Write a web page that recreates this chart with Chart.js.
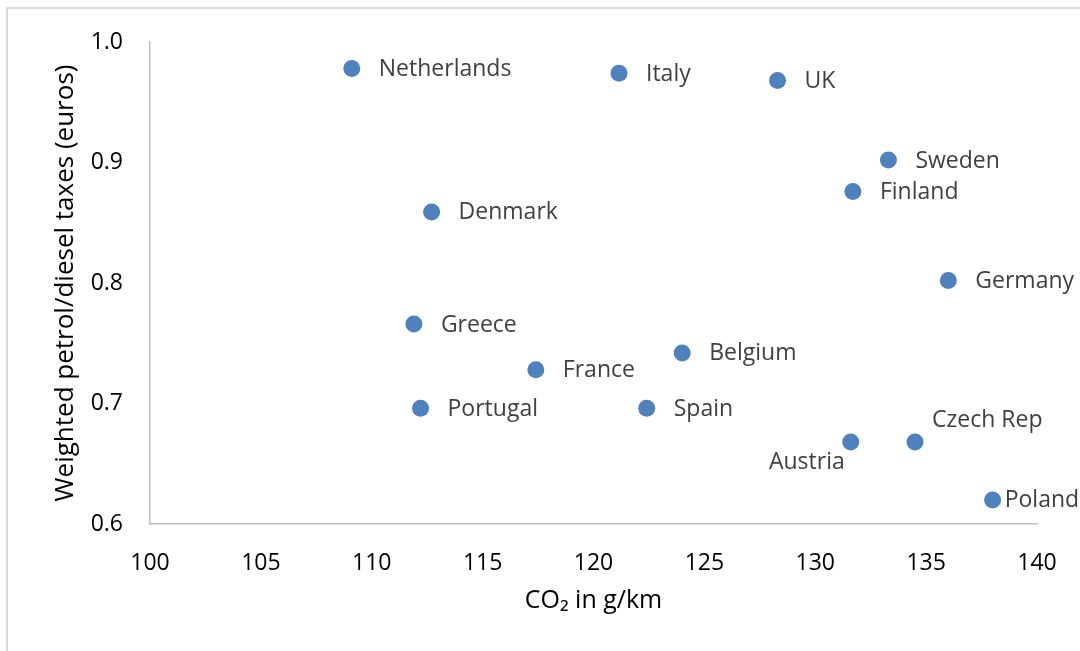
<!DOCTYPE html>
<html>
<head>
<meta charset="utf-8">
<script src="https://cdn.jsdelivr.net/npm/chart.js@4.4.0/dist/chart.umd.min.js"></script>
<style>
  html, body { margin: 0; padding: 0; background: #fff; }
  #wrap { width: 1080px; height: 651px; position: relative; }
</style>
</head>
<body>
<div id="wrap"><canvas id="chart" width="1080" height="651"></canvas></div>
<script>
// data
const countries = ['Netherlands', 'Italy', 'UK', 'Sweden', 'Finland', 'Denmark', 'Germany', 'Greece',
  'Belgium', 'France', 'Portugal', 'Spain', 'Austria', 'Czech Rep', 'Poland'];
const co2 = [109.1, 121.15, 128.3, 133.3, 131.7, 112.7, 136.0, 111.9, 124.0, 117.4, 112.2, 122.4, 131.6, 134.5, 138.0];
const taxes = [0.978, 0.974, 0.968, 0.902, 0.876, 0.859, 0.802, 0.766, 0.742, 0.728, 0.696, 0.696, 0.668, 0.668, 0.620];
const xTicks = [100, 105, 110, 115, 120, 125, 130, 135, 140];
const yTicks = [0.6, 0.7, 0.8, 0.9, 1.0];

// where each label sits relative to its dot
const labelSide = { 'Austria': 'below-left', 'Czech Rep': 'above-right', 'Poland': 'tight' };

const FONT = '"Open Sans", sans-serif';

const pointLabels = {
  id: 'pointLabels',
  afterDatasetsDraw(chart) {
    const ctx = chart.ctx;
    const meta = chart.getDatasetMeta(0);
    ctx.save();
    ctx.font = '23px ' + FONT;
    ctx.fillStyle = '#404040';
    ctx.textBaseline = 'middle';
    meta.data.forEach((pt, i) => {
      const name = countries[i];
      const side = labelSide[name];
      if (side === 'below-left') {
        ctx.textAlign = 'right';
        ctx.fillText(name, pt.x - 6, pt.y + 20);
      } else if (side === 'above-right') {
        ctx.textAlign = 'left';
        ctx.fillText(name, pt.x + 17, pt.y - 22);
      } else if (side === 'tight') {
        ctx.textAlign = 'left';
        ctx.fillText(name, pt.x + 12, pt.y + 1);
      } else {
        ctx.textAlign = 'left';
        ctx.fillText(name, pt.x + 27, pt.y + 1);
      }
    });
    ctx.restore();
  }
};

const frame = {
  id: 'frame',
  beforeDraw(chart) {
    const ctx = chart.ctx;
    ctx.save();
    ctx.strokeStyle = '#d9d9d9';
    ctx.lineWidth = 2;
    ctx.beginPath();
    ctx.moveTo(7, 651);
    ctx.lineTo(7, 8);
    ctx.lineTo(1080, 8);
    ctx.stroke();
    ctx.restore();
  }
};

new Chart(document.getElementById('chart'), {
  type: 'scatter',
  data: {
    datasets: [{
      data: co2.map((x, i) => ({ x: x, y: taxes[i] })),
      backgroundColor: '#4f81bd',
      borderWidth: 0,
      pointRadius: 8.5,
      pointHoverRadius: 8.5
    }]
  },
  options: {
    responsive: false,
    animation: false,
    layout: { padding: { top: 42, right: 43, left: 0, bottom: 0 } },
    plugins: { legend: { display: false }, tooltip: { enabled: false } },
    scales: {
      x: {
        type: 'linear',
        min: 100, max: 140,
        afterBuildTicks: s => { s.ticks = xTicks.map(v => ({ value: v })); },
        afterFit: s => { s.height = 127; },
        grid: { display: false },
        border: { color: '#bfbfbf', width: 1.5 },
        ticks: { color: '#000', padding: 18, font: { family: FONT, size: 23 }, maxRotation: 0 },
        title: { display: true, text: 'CO₂ in g/km', color: '#000', font: { family: FONT, size: 25 }, padding: { top: 0, bottom: 35 } }
      },
      y: {
        type: 'linear',
        min: 0.6, max: 1.0,
        afterBuildTicks: s => { s.ticks = yTicks.map(v => ({ value: v })); },
        afterFit: s => { s.width = 150; },
        grid: { display: false },
        border: { color: '#bfbfbf', width: 1.5 },
        ticks: { color: '#000', padding: 19, font: { family: FONT, size: 23 }, callback: v => v.toFixed(1) },
        title: { display: true, text: 'Weighted petrol/diesel taxes (euros)', color: '#000', font: { family: FONT, size: 26 }, padding: { top: 50, bottom: 0 } }
      }
    }
  },
  plugins: [frame, pointLabels]
});
</script>
</body>
</html>
